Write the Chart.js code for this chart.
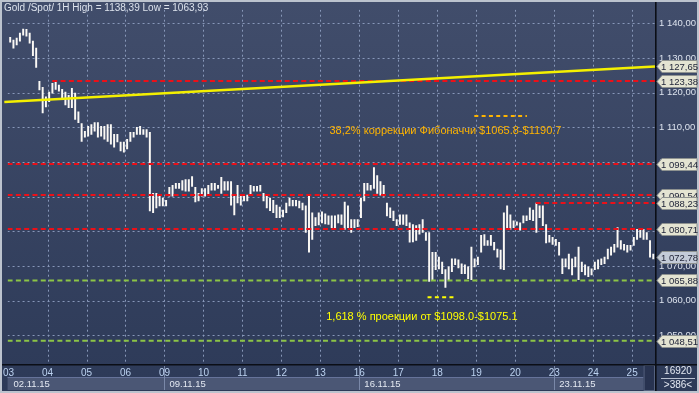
<!DOCTYPE html>
<html><head><meta charset="utf-8">
<style>html,body{margin:0;padding:0;background:#bcc3ce;overflow:hidden}canvas{display:block}</style>
<script src="https://cdn.jsdelivr.net/npm/chart.js@4.4.1/dist/chart.umd.min.js"></script>
</head><body>
<canvas id="c" width="699" height="393"></canvas>
<script>
// ---------- data ----------
const days = ['03','04','05','06','09','10','11','12','13','16','17','18','19','20','23','24','25'];
const weekLabels = ['02.11.15','09.11.15','16.11.15','23.11.15'];
const weekStartDay = [0, 4, 9, 14];
const barsPerDay = 12;
const lows = [
 1134.6,1132.9,1133.8,1134.9,1136.6,1136.3,1134.3,1130.7,1127.3,1120.8,1114.2,1115.9,
 1117.4,1119.9,1121.0,1120.5,1118.5,1116.5,1115.7,1115.7,1112.3,1111.4,1106.0,1107.2,
 1107.5,1108.0,1108.9,1107.2,1107.5,1106.6,1106.0,1105.2,1104.3,1105.8,1103.2,1102.9,
 1103.8,1106.0,1107.2,1108.0,1108.0,1108.0,1107.2,1085.9,1085.4,1086.8,1087.4,1087.4,
 1087.4,1090.2,1090.2,1092.4,1092.4,1091.9,1091.6,1091.6,1093.0,1088.5,1088.8,1090.2,
 1090.2,1090.5,1091.9,1091.9,1092.4,1091.0,1091.9,1091.9,1087.6,1084.8,1088.2,1087.6,
 1088.8,1088.8,1090.5,1091.6,1091.6,1091.6,1088.8,1086.8,1086.0,1085.4,1084.0,1084.0,
 1084.2,1085.4,1087.4,1087.4,1087.4,1086.8,1086.2,1079.7,1074.0,1077.7,1081.7,1081.9,
 1082.5,1082.2,1082.0,1081.1,1081.1,1082.5,1082.0,1080.6,1081.1,1079.7,1081.1,1081.4,
 1084.0,1088.8,1091.9,1091.9,1092.4,1091.0,1090.5,1090.2,1084.5,1084.0,1083.1,1081.7,
 1082.0,1082.0,1081.7,1076.9,1077.0,1077.4,1079.2,1079.7,1077.4,1065.6,1066.1,1069.0,
 1069.2,1067.8,1063.9,1066.1,1068.4,1070.4,1069.5,1067.8,1067.8,1066.4,1066.1,1069.8,
 1070.4,1074.0,1076.0,1076.0,1076.0,1074.7,1072.6,1069.2,1069.0,1080.6,1080.6,1081.1,
 1081.8,1080.4,1082.5,1083.1,1083.4,1083.1,1079.7,1084.0,1081.7,1076.7,1076.9,1076.3,
 1076.0,1073.2,1067.8,1069.8,1069.2,1067.5,1069.8,1066.1,1068.4,1067.5,1067.0,1067.5,
 1069.0,1069.2,1070.4,1070.7,1072.1,1073.2,1074.0,1075.5,1074.9,1074.6,1074.0,1074.6,
 1076.0,1077.7,1078.3,1077.7,1077.7,1072.6,1072.1
];
const highs = [
 1136.0,1135.2,1135.8,1137.2,1138.4,1138.3,1137.2,1134.9,1132.9,1123.3,1121.6,1118.8,
 1120.2,1122.7,1123.0,1122.2,1121.0,1120.2,1119.3,1121.3,1119.9,1114.5,1111.1,1108.9,
 1110.3,1110.8,1111.4,1111.4,1110.3,1110.3,1110.8,1110.8,1108.0,1108.0,1105.8,1105.8,
 1106.6,1108.6,1108.6,1110.0,1110.3,1109.4,1109.4,1108.6,1091.0,1091.0,1090.5,1089.6,
 1089.0,1092.7,1093.3,1093.9,1093.9,1094.7,1095.0,1095.0,1095.8,1092.7,1091.0,1092.4,
 1092.4,1093.3,1093.9,1093.9,1093.3,1095.6,1094.4,1094.4,1094.4,1090.2,1093.3,1090.5,
 1090.2,1090.5,1093.3,1093.0,1093.0,1093.3,1091.0,1090.2,1089.6,1089.0,1087.6,1087.0,
 1086.2,1088.2,1089.6,1089.0,1089.0,1088.8,1088.2,1087.4,1090.2,1085.4,1084.0,1085.4,
 1085.7,1085.1,1084.5,1084.5,1084.5,1084.8,1084.8,1088.5,1087.4,1083.4,1083.4,1083.4,
 1089.6,1093.9,1093.9,1093.3,1098.4,1096.1,1094.4,1093.3,1088.2,1086.8,1085.9,1083.4,
 1084.8,1084.8,1084.8,1082.5,1082.0,1081.7,1082.0,1083.4,1079.7,1079.7,1074.0,1074.0,
 1072.6,1071.2,1069.0,1069.8,1072.1,1072.1,1071.8,1070.7,1070.4,1069.8,1075.5,1072.1,
 1072.6,1078.9,1079.1,1077.4,1078.9,1076.9,1074.9,1074.6,1085.4,1087.4,1084.8,1083.1,
 1082.8,1082.5,1084.5,1084.5,1086.8,1086.2,1088.2,1087.4,1087.4,1082.0,1078.9,1078.3,
 1077.7,1076.9,1072.1,1072.1,1073.5,1072.1,1072.6,1075.5,1071.2,1070.4,1069.8,1069.2,
 1071.2,1071.8,1072.1,1072.6,1074.9,1075.5,1076.3,1081.1,1077.4,1076.3,1076.0,1076.0,
 1078.3,1080.6,1080.3,1080.6,1079.7,1077.4,1073.5
];
const redLevels = [1123.38, 1099.44, 1090.54, 1080.71, 1088.23];
const redStarts = [13.45, -0.31, -0.31, -0.31, 162.3];
const greenLevels = [1065.88, 1048.51];
const trendValues = [1117.4, 1127.6];
const tagValues = [1127.65, 1123.38, 1099.44, 1090.54, 1088.23, 1080.71, 1072.78, 1065.88, 1048.51];
const lastPrice = 1072.78;
const fibText = '38,2% коррекции Фибоначчи $1065.8-$1190.7';
const fibPos = [98.8, 1109.1];
const fibDash = [143.4, 159.6, 1113.3];
const projText = '1,618 % проекции от $1098.0-$1075.1';
const projPos = [97.8, 1055.2];
const projDash = [129.0, 137.6, 1061.0];
const titleText = 'Gold /Spot/ 1H High = 1138,39 Low = 1063,93';
const barCountText = ['16920', '>386<'];

const X_MIN = -0.306, X_MAX = 199.03, Y_MIN = 1041.78, Y_MAX = 1143.96;

function fmt(v){
  const s = v.toFixed(2).split('.');
  return s[0].replace(/\B(?=(\d{3})+(?!\d))/g,' ') + ',' + s[1];
}
const FONT = "'Liberation Sans', Arial, sans-serif";
Chart.defaults.font.family = FONT;

function hLine(v, x0, x1, color, dash, w){
  return {type:'line', data:[{x:x0,y:v},{x:x1,y:v}], borderColor:color, borderWidth:w,
    borderDash:dash, pointRadius:0, fill:false, order:1};
}
const datasets = [];
redLevels.forEach((v,i)=>datasets.push(hLine(v, redStarts[i], X_MAX, '#ec1018', [5,3.3], 2)));
greenLevels.forEach(v=>datasets.push(hLine(v, X_MIN, X_MAX, '#8cc446', [5,3.3], 2)));
datasets.push(hLine(fibDash[2], fibDash[0], fibDash[1], '#ffb400', [4,3.3], 2));
datasets.push(hLine(projDash[2], projDash[0], projDash[1], '#ffff00', [4,3.3], 2));
datasets.push({type:'line', data:[{x:X_MIN-1,y:trendValues[0]-0.05},{x:X_MAX,y:trendValues[1]}],
  borderColor:'#f4f000', borderWidth:2.5, pointRadius:0, fill:false, order:0, clip:false});
datasets.push({type:'bar', data: lows.map((l,i)=>({x:i+0.5, y:[l, highs[i]]})),
  backgroundColor:'#fbf9f5', borderWidth:0, barThickness:1.3, order:5, grouped:false});

const gridColor = 'rgba(140,156,190,0.95)';

const deco = {
  id:'deco',
  beforeDraw(chart){
    const {ctx, width, height} = chart;
    ctx.save();
    ctx.fillStyle = '#bcc3ce'; ctx.fillRect(0,0,width,height);
    const g = ctx.createLinearGradient(0,2,0,391);
    g.addColorStop(0,'#414d6b'); g.addColorStop(1,'#2d3a58');
    ctx.fillStyle = g; ctx.fillRect(2,2,width-4,height-4);
    ctx.restore();
  },
  beforeDatasetsDraw(chart){
    const {ctx, chartArea:a, scales:{x,y}} = chart;
    ctx.save();
    ctx.beginPath(); ctx.rect(a.left, a.top, a.right-a.left, a.bottom-a.top); ctx.clip();
    ctx.strokeStyle = gridColor; ctx.lineWidth = 1; ctx.setLineDash([2,3]);
    ctx.beginPath();
    x.ticks.forEach(t=>{
      const px = Math.round(x.getPixelForValue(t.value)) + 0.5;
      if (px > a.left + 2){ ctx.moveTo(px, a.top); ctx.lineTo(px, a.bottom); }
    });
    y.ticks.forEach(t=>{
      const py = Math.round(y.getPixelForValue(t.value)) + 0.5;
      ctx.moveTo(a.left, py); ctx.lineTo(a.right, py);
    });
    ctx.stroke();
    ctx.restore();
  },
  afterDatasetsDraw(chart){
    const {ctx, scales:{x,y}} = chart;
    ctx.save();
    ctx.font = '11px ' + FONT; ctx.textBaseline = 'middle'; ctx.textAlign = 'left';
    ctx.fillStyle = '#ffb400';
    ctx.fillText(fibText, x.getPixelForValue(fibPos[0]), y.getPixelForValue(fibPos[1]));
    ctx.fillStyle = '#ffff00';
    ctx.fillText(projText, x.getPixelForValue(projPos[0]), y.getPixelForValue(projPos[1]));
    ctx.restore();
  },
  afterDraw(chart){
    const {ctx, chartArea:a, scales:{x,y}} = chart;
    ctx.save();
    // week band
    ctx.fillStyle = '#4b5775'; ctx.fillRect(a.left, 377, 636, 13);
    ctx.strokeStyle = '#66739a'; ctx.lineWidth = 1;
    ctx.beginPath(); ctx.moveTo(a.left, 377.5); ctx.lineTo(a.left+636, 377.5); ctx.stroke();
    ctx.font = '9.5px ' + FONT; ctx.textBaseline = 'middle'; ctx.textAlign = 'left';
    weekStartDay.forEach((d,i)=>{
      const px = x.getPixelForValue(d*barsPerDay);
      if (i>0){ ctx.strokeStyle='#7a88a8'; ctx.beginPath(); ctx.moveTo(Math.round(px)+0.5,366); ctx.lineTo(Math.round(px)+0.5,390); ctx.stroke(); }
      ctx.fillStyle = '#e4e9f2';
      ctx.fillText(weekLabels[i], Math.max(px,a.left)+5, 384);
    });
    // dark box at end of time axis
    ctx.fillStyle = '#283350'; ctx.fillRect(a.left+636, 365, a.right-a.left-636, 26);
    ctx.strokeStyle = '#55627f'; ctx.strokeRect(a.left+636+0.5, 365.5, a.right-a.left-637, 25);
    // separators
    ctx.strokeStyle = '#0b0e16'; ctx.lineWidth = 1.6;
    ctx.beginPath();
    ctx.moveTo(a.right+0.8, 2); ctx.lineTo(a.right+0.8, 391);
    ctx.moveTo(2, a.bottom+0.8); ctx.lineTo(697, a.bottom+0.8);
    ctx.stroke();
    // bottom right box
    ctx.fillStyle = '#e4e9f2'; ctx.textAlign = 'center'; ctx.font = '10px ' + FONT;
    ctx.fillText(barCountText[0], 678, 371);
    ctx.fillText(barCountText[1], 678, 385);
    ctx.strokeStyle = '#b8c0d0'; ctx.lineWidth = 1;
    ctx.beginPath(); ctx.moveTo(661, 378.5); ctx.lineTo(695, 378.5); ctx.stroke();
    // price tags
    ctx.font = '9.5px ' + FONT; ctx.textAlign = 'left';
    tagValues.forEach(v=>{
      const py = Math.round(y.getPixelForValue(v)) + 0.5;
      const l = a.right + 2, r = 697;
      ctx.beginPath();
      ctx.moveTo(l, py); ctx.lineTo(l+5, py-6); ctx.lineTo(r, py-6); ctx.lineTo(r, py+6); ctx.lineTo(l+5, py+6); ctx.closePath();
      ctx.fillStyle = v===lastPrice ? '#c3cbd8' : '#e4e4d2';
      ctx.fill();
      ctx.strokeStyle = '#8e9290'; ctx.stroke();
      ctx.fillStyle = '#22263a';
      ctx.fillText(fmt(v), l+4, py+0.5);
    });
    // title
    ctx.font = '10px ' + FONT; ctx.fillStyle = '#dce2ec'; ctx.textAlign='left';
    ctx.fillText(titleText, 4, 8);
    ctx.restore();
  }
};

new Chart(document.getElementById('c'), {
  type:'bar',
  data:{datasets},
  options:{
    responsive:false, animation:false, events:[],
    layout:{padding:{left:3, top:3, right:0, bottom:0}},
    plugins:{legend:{display:false}, tooltip:{enabled:false}},
    scales:{
      x:{type:'linear', min:X_MIN, max:X_MAX, offset:false,
        afterBuildTicks(s){ s.ticks = days.map((d,i)=>({value:i*barsPerDay})); },
        afterFit(s){ s.height = 29; },
        grid:{display:false, drawTicks:false, offset:false},
        border:{display:false},
        ticks:{autoSkip:false, maxRotation:0, padding:3, color:'#bcd2f0', font:{size:10},
          callback(v){ return days[Math.round(v/barsPerDay)]; }}
      },
      y:{type:'linear', position:'right', min:Y_MIN, max:Y_MAX,
        afterFit(s){ s.width = 44; },
        grid:{display:false, drawTicks:false},
        border:{display:false},
        ticks:{stepSize:10, includeBounds:false, padding:4, crossAlign:'near', color:'#dde3ee', font:{size:9.5},
          callback(v){ return fmt(v); }}
      }
    }
  },
  plugins:[deco]
});
</script>
</body></html>
